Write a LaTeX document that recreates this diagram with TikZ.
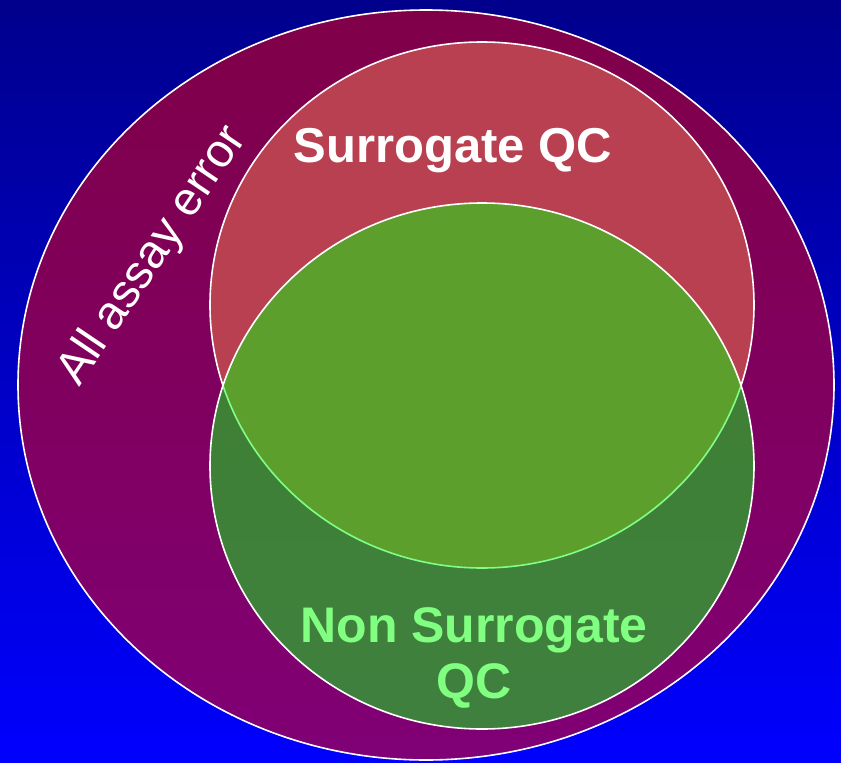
\documentclass[tikz,border=0pt]{standalone}
\usepackage{fontspec}
\setmainfont{Liberation Sans}
\begin{document}
\begin{tikzpicture}[x=1pt,y=-1pt,
  ring/.style={draw=white, line width=1.6pt},
  lbl/.style={font=\bfseries\fontsize{49}{55}\selectfont, align=center, inner sep=0pt}]
\useasboundingbox (0,0) rectangle (841,763);
\shade[top color={rgb,255:red,0;green,0;blue,140}, bottom color={rgb,255:red,0;green,0;blue,255}] (0,0) rectangle (841,763);
% all assay error
\shade[top color={rgb,255:red,128;green,0;blue,72}, bottom color={rgb,255:red,128;green,0;blue,118}]
  (426,385) ellipse [x radius=408, y radius=375];
\draw[ring] (426,385) ellipse [x radius=408, y radius=375];
% surrogate QC
\fill[fill={rgb,255:red,185;green,64;blue,80}] (482,305) ellipse [x radius=272, y radius=263];
\draw[ring] (482,305) ellipse [x radius=272, y radius=263];
% non surrogate QC (semi-transparent green)
\fill[fill={rgb,255:red,0;green,255;blue,12}, fill opacity=0.5] (482,466) ellipse [x radius=272, y radius=263];
\draw[ring] (482,466) ellipse [x radius=272, y radius=263];
\node[lbl, text=white] (sq) at (453,151) {Surrogate QC};
\node[lbl, text={rgb,255:red,128;green,255;blue,128}, font=\bfseries\fontsize{50}{56}\selectfont] (nsq) at (474,658) {Non Surrogate\\QC};
\node[text=white, font=\fontsize{47}{50}\selectfont, rotate=56, inner sep=0pt] (all) at (153,256) {All assay error};
\end{tikzpicture}
\end{document}
